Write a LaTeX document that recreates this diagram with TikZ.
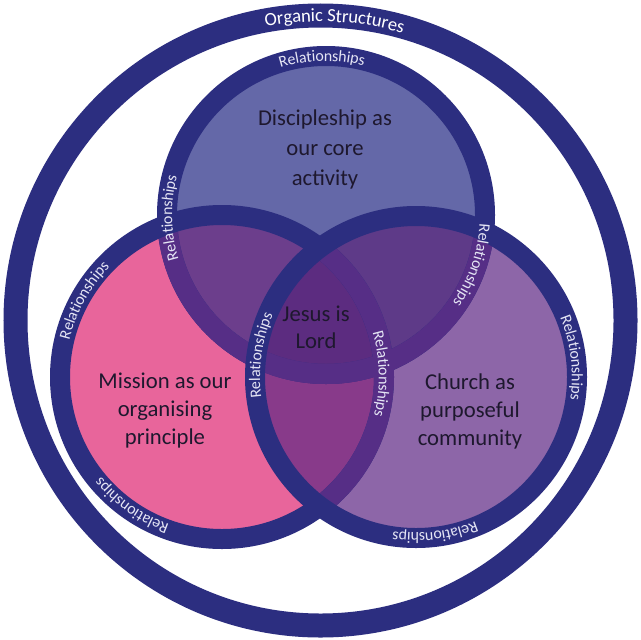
\documentclass[tikz,border=0pt]{standalone}
\usepackage{fontspec}
\setmainfont{Carlito}
\usetikzlibrary{decorations.text}
\definecolor{navy}{RGB}{44,46,128}
\definecolor{tcol}{RGB}{100,104,168}
\definecolor{lcol}{RGB}{232,101,155}
\definecolor{rcol}{RGB}{141,102,168}
\definecolor{tlcol}{RGB}{108,62,140}
\definecolor{trcol}{RGB}{94,58,136}
\definecolor{lrcol}{RGB}{136,58,138}
\definecolor{ccol}{RGB}{92,44,128}
\definecolor{tintcol}{RGB}{86,46,134}
\definecolor{relcol}{RGB}{228,228,244}
\definecolor{labelcol}{RGB}{30,24,46}
\newcommand{\relfont}{\fontsize{12}{12}\selectfont\color{relcol}}
\newcommand{\orgfont}{\fontsize{14}{14}\selectfont\color{white}}
\newcommand{\arclabel}[5]{%
  \path[decorate, decoration={text along path, text align=center, raise=#5, text={#4}}]
    (#1) ++(#3+25:#2) arc[start angle=#3+25, end angle=#3-25, radius=#2];}
\tikzset{
  ringline/.style={draw=navy, line width=15pt},
  outerring/.style={draw=navy, line width=18pt},
  bigtext/.style={align=center, text=labelcol, font=\fontsize{17}{21}\selectfont},
}
\begin{document}
\begin{tikzpicture}[x=0.75pt,y=0.75pt]
\useasboundingbox (0,0) rectangle (641,-639);
\fill[white] (0,0) rectangle (641,-639);
\coordinate (O) at (320.5,-320.5);
\coordinate (T) at (326,-215);
\coordinate (L) at (222,-377);
\coordinate (R) at (416,-377);
\def\rT{159}
\def\rL{162}
\def\rR{161}
% outer ring
\draw[outerring] (O) circle (305);
% fills
\fill[tcol] (T) circle (\rT);
\fill[lcol] (L) circle (\rL);
\fill[rcol] (R) circle (\rR);
\begin{scope}\clip (T) circle (\rT); \fill[tlcol] (L) circle (\rL);\end{scope}
\begin{scope}\clip (T) circle (\rT); \fill[trcol] (R) circle (\rR);\end{scope}
\begin{scope}\clip (L) circle (\rL); \fill[lrcol] (R) circle (\rR);\end{scope}
\begin{scope}\clip (T) circle (\rT); \clip (L) circle (\rL); \fill[ccol] (R) circle (\rR);\end{scope}
% rings
\draw[ringline] (T) circle (\rT);
\begin{scope}\clip (L) circle (\rL); \draw[ringline, draw=tintcol] (T) circle (\rT);\end{scope}
\draw[ringline] (L) circle (\rL);
\begin{scope}\clip (R) circle (\rR);
  \draw[ringline, draw=tintcol] (T) circle (\rT);
  \draw[ringline, draw=tintcol] (L) circle (\rL);
\end{scope}
\draw[ringline] (R) circle (\rR);
% ring labels
\arclabel{O}{305}{87.3}{|\orgfont|Organic Structures}{-4.6pt}
\arclabel{T}{\rT}{91.5}{|\relfont|Relationships}{-3.8pt}
\arclabel{T}{\rT}{181}{|\relfont|Relationships}{-3.8pt}
\arclabel{T}{\rT}{-19}{|\relfont|Relationships}{-3.8pt}
\arclabel{L}{\rL}{151}{|\relfont|Relationships}{-3.8pt}
\arclabel{L}{\rL}{1}{|\relfont|Relationships}{-3.8pt}
\arclabel{L}{\rL}{-125}{|\relfont|Relationships}{-3.8pt}
\arclabel{R}{\rR}{172}{|\relfont|Relationships}{-3.8pt}
\arclabel{R}{\rR}{7}{|\relfont|Relationships}{-3.8pt}
\arclabel{R}{\rR}{-83}{|\relfont|Relationships}{-3.8pt}
% main labels
\node[bigtext, font=\fontsize{17}{22.5}\selectfont] (disc) at (325,-149) {Discipleship as\\our core\\activity};
\node[bigtext, font=\fontsize{17}{20}\selectfont] (jesus) at (316,-327) {Jesus is\\Lord};
\node[bigtext] (mission) at (165,-411) {Mission as our\\organising\\principle};
\node[bigtext] (church) at (470,-411) {Church as\\purposeful\\community};
\end{tikzpicture}
\end{document}
